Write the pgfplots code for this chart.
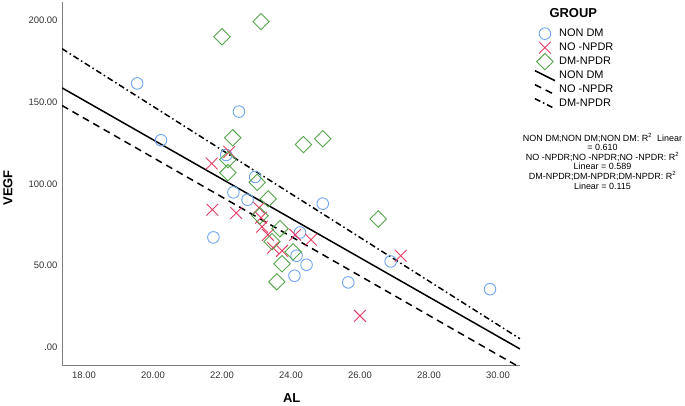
\documentclass[border=0pt]{standalone}
\usepackage{fontspec}
\setmainfont{Liberation Sans}
\usepackage{pgfplots}
\pgfplotsset{compat=1.18}
\definecolor{cblue}{RGB}{110,165,240}
\definecolor{cred}{RGB}{228,60,100}
\definecolor{cgreen}{RGB}{85,165,75}
\definecolor{axgray}{RGB}{125,125,125}
\pgfplotsset{slantline/.style={legend image code/.code={\draw[overlay,##1] (0bp,5bp) -- (20bp,-5bp); \path (0bp,-3bp) (20bp,3bp);}}}
\begin{document}
\begin{tikzpicture}[x=1bp,y=1bp]
\begin{axis}[
  at={(62bp,40bp)}, anchor=south west,
  width=458bp, height=363bp, scale only axis,
  xmin=17.36, xmax=30.64, ymin=-10.6, ymax=211,
  axis lines=left,
  axis line style={-, axgray, line width=1bp},
  xtick={18,20,22,24,26,28,30},
  xticklabels={18.00,20.00,22.00,24.00,26.00,28.00,30.00},
  ytick={0,50,100,150,200},
  yticklabels={.00,50.00,100.00,150.00,200.00},
  major tick length=0pt,
  tick label style={font=\fontsize{9.5}{11}\selectfont, text=black!80},
  xticklabel style={yshift=-3bp},
  yticklabel style={xshift=-1bp},
  xlabel={AL}, ylabel={VEGF},
  label style={font=\fontsize{13}{15}\selectfont\bfseries},
  xlabel style={at={(axis description cs:0.5015,-0.0909)}, anchor=center},
  ylabel style={at={(axis description cs:-0.118,0.4876)}, anchor=center},
  legend style={at={(axis description cs:1.024,0.934)}, anchor=north west,
    draw=none, fill=none, font=\fontsize{11}{13}\selectfont,
    nodes={inner xsep=3.5bp, inner ysep=0pt, text height=8.5bp, text depth=2.5bp},
    row sep=3bp},
  legend cell align=left,
  legend image code/.code={\draw[overlay,mark repeat=2,mark phase=2,#1] plot coordinates {(0bp,0bp) (10bp,0bp) (20bp,0bp)}; \path (0bp,-3bp) (20bp,3bp);},
]
\addplot[only marks, mark=o, mark size=5.8bp, draw=cblue, line width=0.9bp] coordinates {
(19.54,161.3) (20.23,126.6) (22.49,144.1) (22.12,117.6) (22.33,94.8)
(22.74,90.3) (22.96,104.2) (24.92,87.9) (21.75,67.3) (24.26,70.3)
(24.16,56.1) (24.45,50.6) (24.10,43.9) (25.66,39.8) (26.89,52.6) (29.77,35.7)
};
\addlegendentry{NON DM}
\addplot[only marks, mark=x, mark size=8.3bp, draw=cred, line width=0.9bp] coordinates {
(21.70,112.4) (22.21,119.5) (21.72,84.2) (22.41,82.2) (23.07,85.4)
(23.13,79.3) (23.16,73.8) (23.33,68.9) (23.48,61.0) (23.74,59.1)
(24.12,68.9) (24.58,65.9) (27.18,56.1) (26.00,19.4)
};
\addlegendentry{NO -NPDR}
\addplot[only marks, mark=square, mark size=5.8bp, mark options={rotate=45}, draw=cgreen, line width=0.9bp] coordinates {
(22.00,189.8) (23.13,199.0) (22.31,128.1) (22.17,114.8) (22.17,106.8)
(23.02,100.9) (23.34,90.8) (24.36,124.0) (24.92,127.5) (26.53,78.5)
(23.10,80.5) (23.68,72.6) (23.45,64.7) (24.06,58.5) (23.74,51.2) (23.59,40.2)
};
\addlegendentry{DM-NPDR}
\addplot[black, line width=1.5bp, no marks, slantline] coordinates {
(17.36,158.6) (30.64,-0.8)
};
\addlegendentry{NON DM}
\addplot[black, line width=1.5bp, no marks, dash pattern=on 7bp off 5bp, slantline] coordinates {
(17.36,147.8) (30.64,-12.1)
};
\addlegendentry{NO -NPDR}
\addplot[black, line width=1.5bp, no marks, dash pattern=on 6bp off 3bp on 1.5bp off 3bp, slantline] coordinates {
(17.36,182.5) (30.64,5.4)
};
\addlegendentry{DM-NPDR}
\end{axis}
\node[font=\fontsize{13}{15}\selectfont\bfseries] at (573.3,391.7) {GROUP};
\node[font=\fontsize{9}{9.7}\selectfont, align=center, anchor=north] at (602.5,275.5) {NON DM;NON DM;NON DM: R\textsuperscript{2} \ Linear\\= 0.610\\NO -NPDR;NO -NPDR;NO -NPDR: R\textsuperscript{2}\\Linear = 0.589\\DM-NPDR;DM-NPDR;DM-NPDR: R\textsuperscript{2}\\Linear = 0.115};
\pgfresetboundingbox
\useasboundingbox (0,0) rectangle (685,405);
\end{tikzpicture}
\end{document}
